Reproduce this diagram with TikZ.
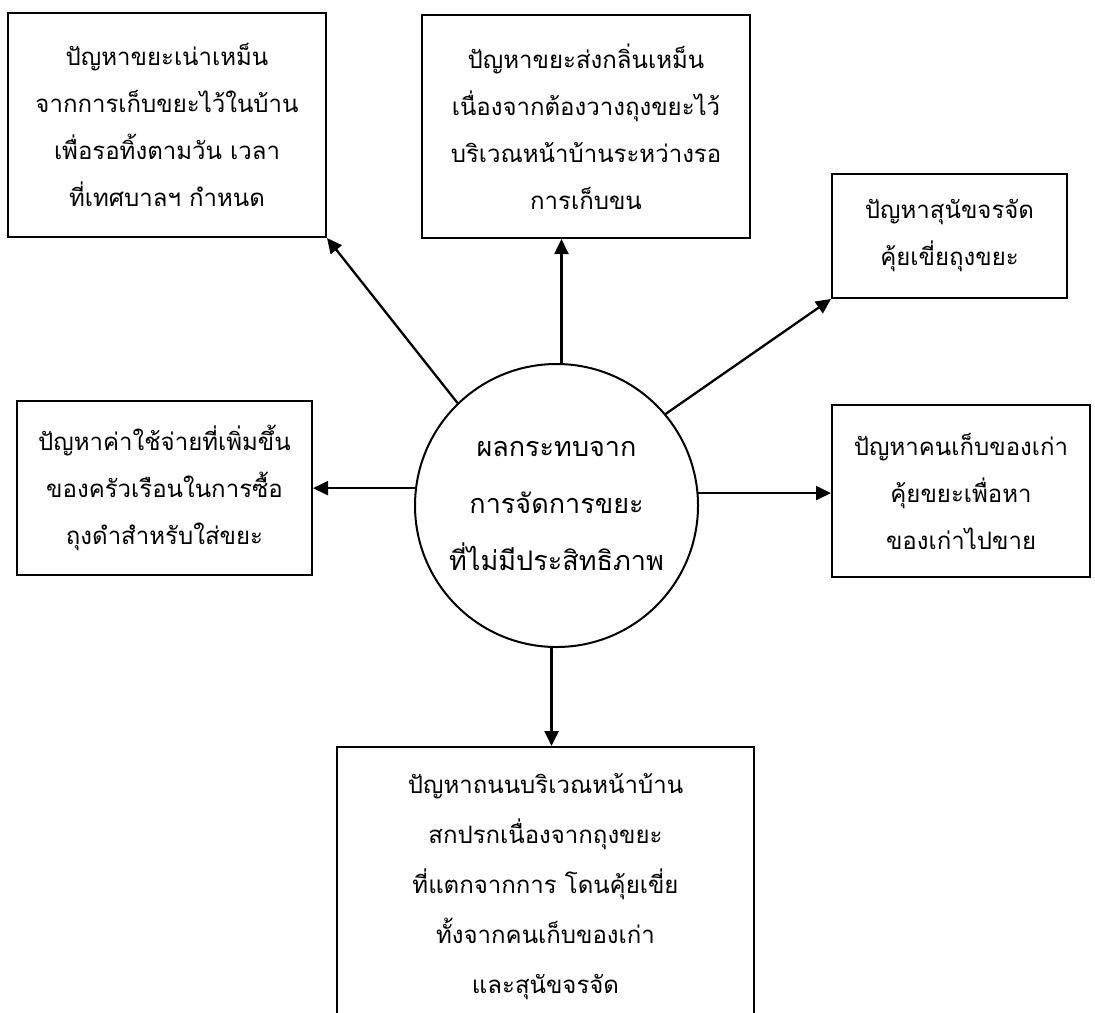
\documentclass[tikz,border=0pt]{standalone}
\usepackage{fontspec}
\newfontfamily\thaifont[Script=Thai]{Loma}
\usetikzlibrary{arrows.meta}
\tikzset{
  box/.style={draw, rectangle, line width=1pt, inner sep=0pt, align=center, font=\thaifont\fontsize{12}{23.5}\selectfont},
  arr/.style={-{Triangle[length=7.5pt,width=7pt]}, line width=1.15pt}
}
\begin{document}
\begin{tikzpicture}[x=0.5pt,y=-0.5pt]
    \clip (0,0) rectangle (1095,1012);
    \useasboundingbox (0,0) rectangle (1095,1012);

    \node[draw, circle, line width=1pt, minimum size=141.5pt, inner sep=0pt, align=center, font=\thaifont\fontsize{13.5}{28.5}\selectfont] (circ) at (556.5,505.5) {ผลกระทบจาก\\การจัดการขยะ\\ที่ไม่มีประสิทธิภาพ};

    \node[box, minimum width=159pt, minimum height=112pt] (waste) at (167,125) {ปัญหาขยะเน่าเหม็น\\จากการเก็บขยะไว้ในบ้าน\\เพื่อรอทิ้งตามวัน เวลา\\ที่เทศบาลฯ กำหนด};
    \node[box, minimum width=164pt, minimum height=111.5pt] (smell) at (586,126.5) {ปัญหาขยะส่งกลิ่นเหม็น\\เนื่องจากต้องวางถุงขยะไว้\\บริเวณหน้าบ้านระหว่างรอ\\การเก็บขน};
    \node[box, minimum width=117.5pt, minimum height=62pt] (dog) at (949.5,236) {ปัญหาสุนัขจรจัด\\คุ้ยเขี่ยถุงขยะ};
    \node[box, minimum width=147.5pt, minimum height=87pt] (cost) at (164.5,488) {ปัญหาค่าใช้จ่ายที่เพิ่มขึ้น\\ของครัวเรือนในการซื้อ\\ถุงดำสำหรับใส่ขยะ};
    \node[box, minimum width=129pt, minimum height=86pt] (scav) at (961,491) {ปัญหาคนเก็บของเก่า\\คุ้ยขยะเพื่อหา\\ของเก่าไปขาย};
    \node[box, minimum width=208.5pt, minimum height=140pt, anchor=north, font=\thaifont\fontsize{12}{25}\selectfont] (road) at (545.5,746) {ปัญหาถนนบริเวณหน้าบ้าน\\สกปรกเนื่องจากถุงขยะ\\ที่แตกจากการ โดนคุ้ยเขี่ย\\ทั้งจากคนเก็บของเก่า\\และสุนัขจรจัด};

    \draw[arr] (circ.134) -- (waste.south east);
    \draw[arr] (circ.88) -- (circ.88 |- smell.south);
    \draw[arr] (circ.40.5) -- (dog.south west);
    \draw[arr] (circ.173) -- (circ.173 -| cost.east);
    \draw[arr] (circ.5) -- (circ.5 -| scav.west);
    \draw[arr] (circ.268.6) -- (circ.268.6 |- road.north);
\end{tikzpicture}
\end{document}
